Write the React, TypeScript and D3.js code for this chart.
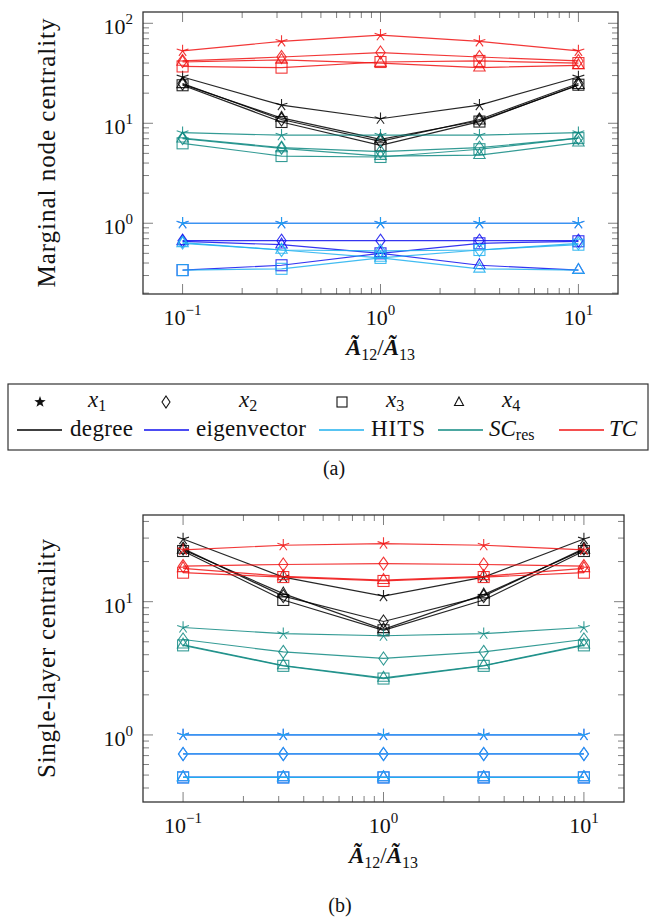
import React from "react";
import * as d3 from "d3";

// ---------- data ----------
const ratios = [0.1, 0.3162, 1, 3.162, 10];
const nodeMarks = ["star", "diamond", "square", "triangle"];
const nodeNames = ["1", "2", "3", "4"];
const methodNames = ["degree", "eigenvector", "HITS", "SCres", "TC"];
const methodColors = ["#000000", "#1010ee", "#20b0ee", "#118a82", "#f01414"];

// (a) marginal node centrality, rows = x1..x4
const degreeMarginal = [
  [29, 15.2, 11.1, 15.2, 29],
  [25, 10.9, 6.6, 10.9, 25],
  [24, 10.3, 6.0, 10.4, 24.3],
  [24.5, 11.3, 6.9, 10.6, 24],
];
const eigenMarginal = [
  [1, 1, 1, 1, 1],
  [0.67, 0.67, 0.67, 0.67, 0.67],
  [0.34, 0.38, 0.5, 0.63, 0.66],
  [0.66, 0.61, 0.5, 0.38, 0.34],
];
const hitsMarginal = [
  [1, 1, 1, 1, 1],
  [0.64, 0.54, 0.53, 0.54, 0.63],
  [0.34, 0.35, 0.45, 0.54, 0.61],
  [0.63, 0.54, 0.45, 0.35, 0.34],
];
const scresMarginal = [
  [8.05, 7.6, 7.6, 7.6, 8.05],
  [7.1, 5.7, 5.2, 5.7, 7.1],
  [6.3, 4.7, 4.6, 5.5, 7.1],
  [7.0, 5.6, 4.7, 4.8, 6.4],
];
const tcMarginal = [
  [53, 66, 76, 66, 53],
  [42, 46, 51, 46, 42],
  [37, 36, 41, 42, 40],
  [41, 43, 40, 36, 38],
];

// (b) single-layer centrality
const degreeSingle = [
  [29.5, 15.3, 11, 15.3, 29.5],
  [25, 11, 7.1, 11, 25],
  [24, 10.3, 6.1, 10.3, 24],
  [24.5, 11.5, 6.2, 11.3, 24.5],
];
const eigenSingle = [
  [1, 1, 1, 1, 1],
  [0.72, 0.72, 0.72, 0.72, 0.72],
  [0.48, 0.48, 0.48, 0.48, 0.48],
  [0.48, 0.48, 0.48, 0.48, 0.48],
];
const hitsSingle = [
  [1, 1, 1, 1, 1],
  [0.72, 0.72, 0.72, 0.72, 0.72],
  [0.48, 0.48, 0.48, 0.48, 0.48],
  [0.48, 0.48, 0.48, 0.48, 0.48],
];
const scresSingle = [
  [6.4, 5.75, 5.55, 5.75, 6.4],
  [5.2, 4.2, 3.75, 4.2, 5.2],
  [4.7, 3.3, 2.65, 3.3, 4.7],
  [4.75, 3.32, 2.68, 3.32, 4.75],
];
const tcSingle = [
  [24.5, 26.5, 27.3, 26.5, 24.5],
  [18.5, 19, 19.3, 19, 18.5],
  [16.5, 15.3, 14.3, 15.3, 16.5],
  [17.8, 15.5, 14.5, 15.5, 17.8],
];

const xDomain = [0.0631, 15.85];
const yDomainA = [0.196, 129.7];
const yDomainB = [0.314, 44.7];

const FONT = "'Liberation Serif', 'Times New Roman', serif";
const fs = (size: number, extra: any = {}) => ({ fontFamily: FONT, fontSize: size + "px", ...extra });

// ---------- marks ----------
function Marker({ type, x, y, color, s = 1 }: any) {
  const common = { fill: "none", stroke: color, strokeWidth: 1.1, strokeOpacity: 0.85 };
  if (type === "star") {
    const r = 6.2 * s;
    let d = "";
    for (let i = 0; i < 5; i++) {
      const a = (i * 2 * Math.PI) / 5;
      d += `M${x},${y}L${x + r * Math.sin(a)},${y - r * Math.cos(a)}`;
    }
    return <path d={d} {...common} />;
  }
  if (type === "diamond") {
    const h = 6.5 * s, w = 4.6 * s;
    return <path d={`M${x},${y - h}L${x + w},${y}L${x},${y + h}L${x - w},${y}Z`} {...common} />;
  }
  if (type === "square") {
    const h = 5.5 * s;
    return <rect x={x - h} y={y - h} width={2 * h} height={2 * h} {...common} />;
  }
  const r = 6.6 * s;
  return (
    <path
      d={`M${x},${y - r}L${x + 0.866 * r},${y + 0.5 * r}L${x - 0.866 * r},${y + 0.5 * r}Z`}
      {...common}
    />
  );
}

function Panel({ x0, x1, y0, y1, yDomain, groups, yLabel, yLabelLen }: any) {
  const xs = d3.scaleLog().domain(xDomain).range([x0, x1]);
  const ys = d3.scaleLog().domain(yDomain).range([y1, y0]);
  const line = d3
    .line<number>()
    .x((_, i) => xs(ratios[i]))
    .y((v) => ys(v));

  const xMajor = [0.1, 1, 10];
  const xMinor: number[] = [];
  [0.1, 1].forEach((d) => {
    for (let k = 2; k <= 9; k++) xMinor.push(k * d);
  });
  const yMajor: number[] = [];
  const yMinor: number[] = [];
  for (let e = -2; e <= 3; e++) {
    const base = Math.pow(10, e);
    if (base >= yDomain[0] && base <= yDomain[1]) yMajor.push(e);
    for (let k = 2; k <= 9; k++) {
      const v = k * base;
      if (v > yDomain[0] * 1.02 && v < yDomain[1]) yMinor.push(v);
    }
  }
  const tickCol = "#808080";
  const MJ = 10, MN = 6;

  return (
    <g>
      {xMajor.map((v) => (
        <g key={"xM" + v}>
          <line x1={xs(v)} x2={xs(v)} y1={y1} y2={y1 - MJ} stroke={tickCol} />
          <line x1={xs(v)} x2={xs(v)} y1={y0} y2={y0 + MJ} stroke={tickCol} />
        </g>
      ))}
      {xMinor.map((v) => (
        <g key={"xm" + v}>
          <line x1={xs(v)} x2={xs(v)} y1={y1} y2={y1 - MN} stroke={tickCol} />
          <line x1={xs(v)} x2={xs(v)} y1={y0} y2={y0 + MN} stroke={tickCol} />
        </g>
      ))}
      {yMajor.map((e) => (
        <g key={"yM" + e}>
          <line x1={x0} x2={x0 + MJ} y1={ys(Math.pow(10, e))} y2={ys(Math.pow(10, e))} stroke={tickCol} />
          <line x1={x1} x2={x1 - MJ} y1={ys(Math.pow(10, e))} y2={ys(Math.pow(10, e))} stroke={tickCol} />
        </g>
      ))}
      {yMinor.map((v) => (
        <g key={"ym" + v}>
          <line x1={x0} x2={x0 + MN} y1={ys(v)} y2={ys(v)} stroke={tickCol} />
          <line x1={x1} x2={x1 - MN} y1={ys(v)} y2={ys(v)} stroke={tickCol} />
        </g>
      ))}

      {groups.map((rows: number[][], mi: number) => (
        <g key={"m" + mi}>
          {rows.map((vals, ni) => (
            <path
              key={"l" + ni}
              d={line(vals) || ""}
              fill="none"
              stroke={methodColors[mi]}
              strokeWidth={1.2}
              strokeOpacity={0.85}
            />
          ))}
          {rows.map((vals, ni) =>
            vals.map((v, i) => (
              <Marker
                key={"p" + ni + "-" + i}
                type={nodeMarks[ni]}
                x={xs(ratios[i])}
                y={ys(v)}
                color={methodColors[mi]}
              />
            ))
          )}
        </g>
      ))}

      <rect x={x0} y={y0} width={x1 - x0} height={y1 - y0} fill="none" stroke="#333" strokeWidth={1.3} />

      {xMajor.map((v) => {
        const e = Math.round(Math.log10(v));
        return (
          <text key={"xl" + v} x={xs(v)} y={y1 + 31} textAnchor="middle" style={fs(22)} fill="#111">
            10
            <tspan style={fs(15)} dy={-10}>
              {e < 0 ? "\u2212" + Math.abs(e) : String(e)}
            </tspan>
          </text>
        );
      })}
      {yMajor.map((e) => (
        <text key={"yl" + e} x={x0 - 10} y={ys(Math.pow(10, e)) + 11} textAnchor="end" style={fs(22)} fill="#111">
          10
          <tspan style={fs(15)} dy={-10}>
            {String(e)}
          </tspan>
        </text>
      ))}

      <text
        transform={`translate(55,${(y0 + y1) / 2}) rotate(-90)`}
        textAnchor="middle"
        style={fs(25)}
        fill="#111"
        textLength={yLabelLen}
        lengthAdjust="spacing"
      >
        {yLabel}
      </text>
      <text x={(x0 + x1) / 2} y={y1 + 61} textAnchor="middle" style={fs(23)} fill="#111">
        <tspan style={fs(23, { fontWeight: "bold", fontStyle: "italic" })}>{"\u00C3"}</tspan>
        <tspan style={fs(16)} dy={5}>12</tspan>
        <tspan style={fs(23)} dy={-5}>/</tspan>
        <tspan style={fs(23, { fontWeight: "bold", fontStyle: "italic" })}>{"\u00C3"}</tspan>
        <tspan style={fs(16)} dy={5}>13</tspan>
      </text>
    </g>
  );
}

function LegendMark({ type, x, y }: any) {
  if (type === "star") {
    const pts: string[] = [];
    for (let i = 0; i < 10; i++) {
      const r = i % 2 === 0 ? 6 : 2.4;
      const a = (i * Math.PI) / 5;
      pts.push(`${x + r * Math.sin(a)},${y - r * Math.cos(a)}`);
    }
    return <polygon points={pts.join(" ")} fill="#111" />;
  }
  if (type === "diamond")
    return <path d={`M${x},${y - 6}L${x + 4},${y}L${x},${y + 6}L${x - 4},${y}Z`} fill="none" stroke="#111" strokeWidth={1.1} />;
  if (type === "square")
    return <rect x={x - 5} y={y - 5} width={10} height={10} fill="none" stroke="#111" strokeWidth={1.1} />;
  return <path d={`M${x},${y - 5}L${x + 4.5},${y + 3.5}L${x - 4.5},${y + 3.5}Z`} fill="none" stroke="#111" strokeWidth={1.1} />;
}

function Legend() {
  const markX = [40, 166, 342, 459];
  const labelX = [88, 239, 386, 502];
  const lineX = [17, 144, 319, 438, 559];
  const textX = [70, 196, 371, 489, 609];
  const textLen = [63, 110, 54, 0, 0];
  return (
    <g fill="#111">
      <rect x={8} y={384} width={640} height={66} fill="none" stroke="#333" strokeWidth={1.2} />
      {nodeMarks.map((m, i) => (
        <g key={m}>
          <LegendMark type={m} x={markX[i]} y={402} />
          <text x={labelX[i]} y={407} style={fs(23)}>
            <tspan style={fs(23, { fontStyle: "italic" })}>x</tspan>
            <tspan style={fs(16)} dy={4}>{nodeNames[i]}</tspan>
          </text>
        </g>
      ))}
      {methodNames.map((n, i) => (
        <g key={n}>
          <line x1={lineX[i]} x2={lineX[i] + 45} y1={430} y2={430} stroke={methodColors[i]} strokeWidth={1.6} />
          {n === "SCres" ? (
            <text x={textX[i]} y={436} style={fs(23)}>
              <tspan style={fs(23, { fontStyle: "italic" })}>SC</tspan>
              <tspan style={fs(16)} dy={4}>res</tspan>
            </text>
          ) : n === "TC" ? (
            <text x={textX[i]} y={436} style={fs(23, { fontStyle: "italic" })}>TC</text>
          ) : (
            <text x={textX[i]} y={436} style={fs(23)} textLength={textLen[i]} lengthAdjust="spacing">
              {n}
            </text>
          )}
        </g>
      ))}
    </g>
  );
}

export default function App() {
  const groupsA = [degreeMarginal, eigenMarginal, hitsMarginal, scresMarginal, tcMarginal];
  const groupsB = [degreeSingle, eigenSingle, hitsSingle, scresSingle, tcSingle];
  return (
    <svg
      width={654}
      height={922}
      style={{ position: "absolute", left: 0, top: 0, background: "#fff" }}
    >
      <rect width={654} height={922} fill="#fff" />
      <Panel
        x0={143}
        x1={618}
        y0={12}
        y1={294}
        yDomain={yDomainA}
        groups={groupsA}
        yLabel="Marginal node centrality"
        yLabelLen={269}
      />
      <Legend />
      <text x={334} y={475} textAnchor="middle" style={fs(20)} fill="#111">(a)</text>
      <Panel
        x0={143}
        x1={624}
        y0={515}
        y1={802}
        yDomain={yDomainB}
        groups={groupsB}
        yLabel="Single-layer centrality"
        yLabelLen={239}
      />
      <text x={340} y={912} textAnchor="middle" style={fs(20)} fill="#111">(b)</text>
    </svg>
  );
}
